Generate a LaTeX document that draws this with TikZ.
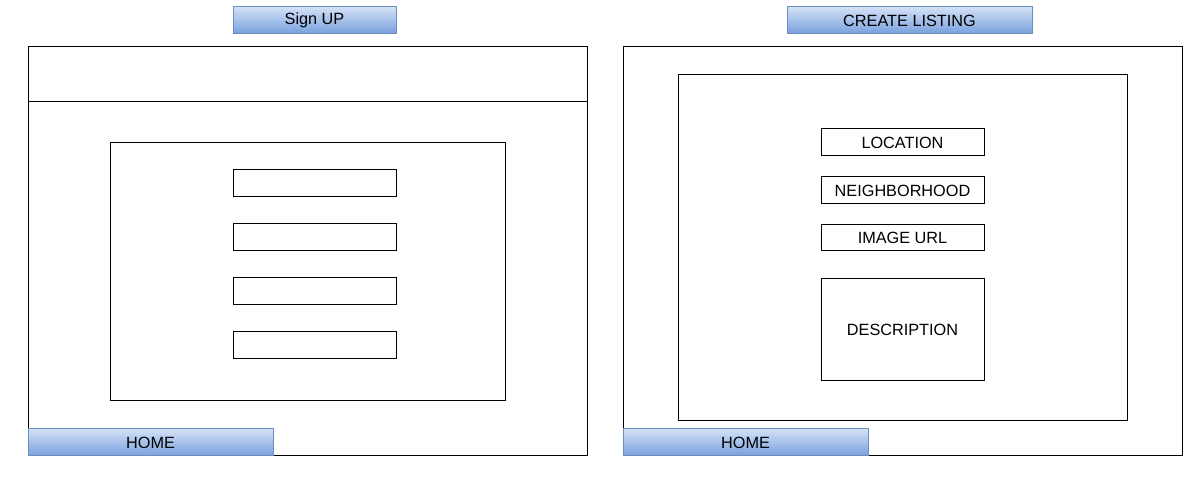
\documentclass[tikz,border=0pt]{standalone}
\usepackage{fontspec}
\setmainfont{Liberation Sans}
\usepackage{tikz}
\usetikzlibrary{shapes}

\tikzset{
  bluebtn/.style={draw={rgb, 255:red, 108; green, 142; blue, 191}, line width=0.75, top color={rgb, 255:red, 214; green, 227; blue, 247}, bottom color={rgb, 255:red, 122; green, 162; blue, 222}},
  frame/.style={draw=black, line width=0.75},
  lbl/.style={inner sep=0.75pt, font=\fontsize{12.2}{14}\selectfont}
}

\begin{document}
\begin{tikzpicture}[x=0.75pt,y=0.75pt,yscale=-1,xscale=1]
\useasboundingbox (0,0) rectangle (1199,494);

%Shape: Rectangle [id:signup window]
\draw [frame] (28,46) rectangle (587,455) ;
%Straight Lines [id:signup header]
\draw [frame] (28,101) -- (587,101) ;
%Shape: Rectangle [id:signup form]
\draw [frame] (110,142) rectangle (505,400) ;
%Shape: Rectangle [id:signup fields]
\foreach \y in {169,223,277,331}
  \draw [frame] (233,\y) rectangle (396,\y+27) ;
%Shape: Button [id:signup title]
\draw [bluebtn] (233,6) rectangle (396,33) ;
%Shape: Button [id:home left]
\draw [bluebtn] (28,428) rectangle (273,455) ;

%Shape: Rectangle [id:listing window]
\draw [frame] (623,46) rectangle (1182,455) ;
%Shape: Rectangle [id:listing form]
\draw [frame] (678,74) rectangle (1127,420) ;
%Shape: Rectangle [id:listing fields]
\draw [frame] (821,128) rectangle (984,155) ;
\draw [frame] (821,176) rectangle (984,203) ;
\draw [frame] (821,224) rectangle (984,250) ;
\draw [frame] (821,278) rectangle (984,380) ;
%Shape: Button [id:listing title]
\draw [bluebtn] (787,6) rectangle (1032,33) ;
%Shape: Button [id:home right]
\draw [bluebtn] (623,428) rectangle (868,455) ;

% Text Node
\node [lbl] (signup) at (314.5,20.5) {Sign UP};
% Text Node
\node [lbl] (homeL) at (150.5,442.5) {HOME};
% Text Node
\node [lbl] (create) at (909.5,20.5) {CREATE LISTING};
% Text Node
\node [lbl] (location) at (902.5,142.5) {LOCATION};
% Text Node
\node [lbl] (hood) at (902.5,190.5) {NEIGHBORHOOD};
% Text Node
\node [lbl] (imgurl) at (902.5,238) {IMAGE URL};
% Text Node
\node [lbl] (descr) at (902.5,330) {DESCRIPTION};
% Text Node
\node [lbl] (homeR) at (745.5,442.5) {HOME};

\end{tikzpicture}
\end{document}
